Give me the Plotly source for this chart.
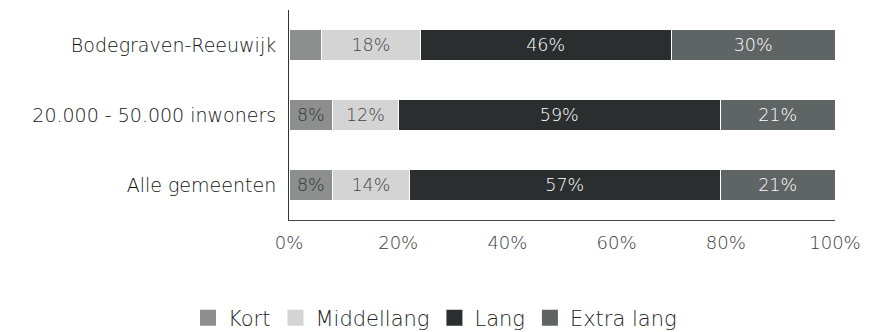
import plotly.graph_objects as go

categories = ["Bodegraven-Reeuwijk", "20.000 - 50.000 inwoners", "Alle gemeenten"]
series_names = ["Kort", "Middellang", "Lang", "Extra lang"]
kort = [6, 8, 8]
middellang = [18, 12, 14]
lang = [46, 59, 57]
extra_lang = [30, 21, 21]
x_ticks = [0, 20, 40, 60, 80, 100]

series_values = [kort, middellang, lang, extra_lang]
colors = ["#8d8f8f", "#d4d4d4", "#2a2e2f", "#5f6464"]
text_colors = ["#333333", "#444444", "#ffffff", "#ffffff"]
min_label = 7  # segments narrower than this get no label
FONT = "DejaVu Sans"
WEIGHT = 200

fig = go.Figure()
for name, vals, col, tcol in zip(series_names, series_values, colors, text_colors):
    fig.add_trace(go.Bar(
        y=categories,
        x=vals,
        name=name,
        orientation="h",
        marker=dict(color=col, line=dict(color="#ffffff", width=1)),
        text=[f"{v}%" if v >= min_label else "" for v in vals],
        textposition="inside",
        insidetextanchor="middle",
        textfont=dict(color=tcol, size=17.5, family=FONT, weight=WEIGHT),
        hoverinfo="skip",
        showlegend=False,
    ))

# larger square swatches for the legend
for name, col in zip(series_names, colors):
    fig.add_trace(go.Scatter(
        x=[None], y=[None], mode="markers", name=name,
        marker=dict(symbol="square", size=16, color=col),
        hoverinfo="skip",
    ))

fig.update_layout(
    barmode="stack",
    bargap=0.56,
    width=870,
    height=332,
    margin=dict(l=289, r=35, t=10, b=112),
    paper_bgcolor="#ffffff",
    plot_bgcolor="#ffffff",
    font=dict(family=FONT, color="#222222", weight=WEIGHT),
    xaxis=dict(
        range=[0, 100],
        tickvals=x_ticks,
        ticktext=[f"{t}%" for t in x_ticks],
        tickfont=dict(size=18, color="#3a3a3a", weight=WEIGHT),
        showgrid=False,
        zeroline=False,
        showline=True,
        linecolor="#444444",
        linewidth=1,
        ticks="",
        ticklen=0,
        ticklabelstandoff=6,
    ),
    yaxis=dict(
        categoryorder="array",
        categoryarray=categories[::-1],
        tickfont=dict(size=19, color="#111111", weight=WEIGHT),
        showgrid=False,
        showline=True,
        linecolor="#333333",
        linewidth=1,
        ticks="",
        ticklabelstandoff=8,
    ),
    legend=dict(
        orientation="h",
        xref="container",
        yref="container",
        x=0.5,
        xanchor="center",
        y=0.042,
        yanchor="middle",
        font=dict(size=21, color="#222222", weight=WEIGHT),
        traceorder="normal",
        itemwidth=30,
    ),
)

fig.write_html("out.html")
